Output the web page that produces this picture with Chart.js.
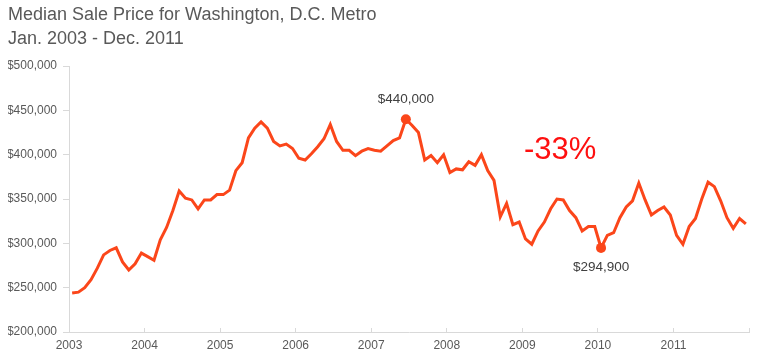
<!DOCTYPE html>
<html>
<head>
<meta charset="utf-8">
<script src="https://cdn.jsdelivr.net/npm/chart.js@4/dist/chart.umd.min.js"></script>
<style>
  html, body { margin: 0; padding: 0; background: #fff; }
  #wrap { width: 759px; height: 363px; }
</style>
</head>
<body>
<div id="wrap"><canvas id="grafico"></canvas></div>
<script>
const titulo = ['Median Sale Price for Washington, D.C. Metro', 'Jan. 2003 - Dec. 2011'];
const anos = ['2003', '2004', '2005', '2006', '2007', '2008', '2009', '2010', '2011'];
const precos = [
  244000, 245000, 250000, 259000, 272000, 287000, 292000, 295000, 279000, 270000, 277000, 289000, // 2003
  285000, 281000, 304000, 318000, 337000, 359000, 351000, 349000, 339000, 349000, 349000, 355000, // 2004
  355000, 360000, 382000, 391000, 419000, 430000, 437000, 430000, 415000, 410000, 412000, 407000, // 2005
  396000, 394000, 401000, 409000, 418000, 434000, 415000, 405000, 405000, 399000, 404000, 407000, // 2006
  405000, 404000, 410000, 416000, 419000, 440000, 433000, 425000, 394000, 399000, 391000, 400000, // 2007
  380000, 384000, 383000, 392000, 388000, 400000, 382000, 371000, 330000, 345000, 321000, 324000, // 2008
  305000, 299000, 314000, 324000, 339000, 350000, 349000, 337000, 329000, 314000, 319000, 319000, // 2009
  294900, 309000, 312000, 329000, 341000, 348000, 368000, 349000, 332000, 337000, 341000, 332000, // 2010
  309000, 299000, 319000, 328000, 350000, 369000, 364000, 348000, 329000, 317000, 328000, 322000  // 2011
];
const iPico = 53;   // jun 2007
const iFundo = 84;  // jan 2010
const queda = Math.round((precos[iFundo] - precos[iPico]) / precos[iPico] * 100) + '%';
const posQueda = { mes: 78, preco: 405000 }; // onde fica o "-33%"

const corLinha = '#fb461a';
const corTexto = '#595959';
const corEixo = '#d9d9d9';

const fmt = v => '$' + v.toLocaleString('en-US');

// ponto no meio de cada mes
const pontos = precos.map((v, i) => ({ x: i + 0.5, y: v }));
const raios = precos.map((v, i) => (i === iPico || i === iFundo) ? 5 : 0);

const anotacoes = {
  id: 'anotacoes',
  afterDatasetsDraw(chart) {
    const ctx = chart.ctx;
    const meta = chart.getDatasetMeta(0);
    ctx.save();
    ctx.textAlign = 'center';
    ctx.textBaseline = 'middle';
    ctx.fillStyle = '#404040';
    ctx.font = '13.5px "Liberation Sans", Arial, sans-serif';
    const pico = meta.data[iPico];
    ctx.fillText(fmt(precos[iPico]), pico.x, pico.y - 20);
    const fundo = meta.data[iFundo];
    ctx.fillText(fmt(precos[iFundo]), fundo.x, fundo.y + 19);

    ctx.fillStyle = '#fe1010';
    ctx.font = '31px "Liberation Sans", Arial, sans-serif';
    ctx.fillText(queda, chart.scales.x.getPixelForValue(posQueda.mes), chart.scales.y.getPixelForValue(posQueda.preco));
    ctx.restore();
  }
};

const ctx = document.getElementById('grafico').getContext('2d');

const grafico = new Chart(ctx, {
  type: 'line',
  data: {
    datasets: [{
      label: 'Median Sale Price',
      data: pontos,
      borderColor: corLinha,
      backgroundColor: corLinha,
      borderWidth: 3,
      tension: 0,
      pointRadius: raios,
      pointHoverRadius: raios,
      pointBorderWidth: 0,
      pointBackgroundColor: corLinha
    }]
  },
  options: {
    responsive: true,
    maintainAspectRatio: false,
    animation: false,
    layout: { padding: { left: 8, right: 7, top: 0, bottom: 0 } },
    plugins: {
      legend: { display: false },
      tooltip: { enabled: false },
      title: {
        display: true,
        text: titulo,
        align: 'start',
        color: corTexto,
        font: { family: '"Liberation Sans", Arial, sans-serif', size: 18, weight: 'normal', lineHeight: 1.28 },
        padding: { top: 4, bottom: 16 }
      }
    },
    scales: {
      x: {
        type: 'linear',
        min: 0,
        max: anos.length * 12,
        border: { color: corEixo },
        grid: { drawOnChartArea: false, color: corEixo, tickLength: -4 },
        ticks: {
          stepSize: 12,
          includeBounds: false,
          autoSkip: false,
          maxRotation: 0,
          padding: 10,
          color: corTexto,
          font: { family: '"Liberation Sans", Arial, sans-serif', size: 12 },
          callback: v => anos[v / 12] || ''
        },
        afterFit: s => { s.height = 31; }
      },
      y: {
        min: 200000,
        max: 500000,
        border: { color: corEixo },
        grid: { drawOnChartArea: false, color: corEixo, tickLength: 6 },
        ticks: {
          stepSize: 50000,
          padding: 6,
          color: corTexto,
          font: { family: '"Liberation Sans", Arial, sans-serif', size: 12 },
          callback: v => fmt(v)
        },
        afterFit: s => { s.width = 61; }
      }
    }
  },
  plugins: [anotacoes]
});
</script>
</body>
</html>
